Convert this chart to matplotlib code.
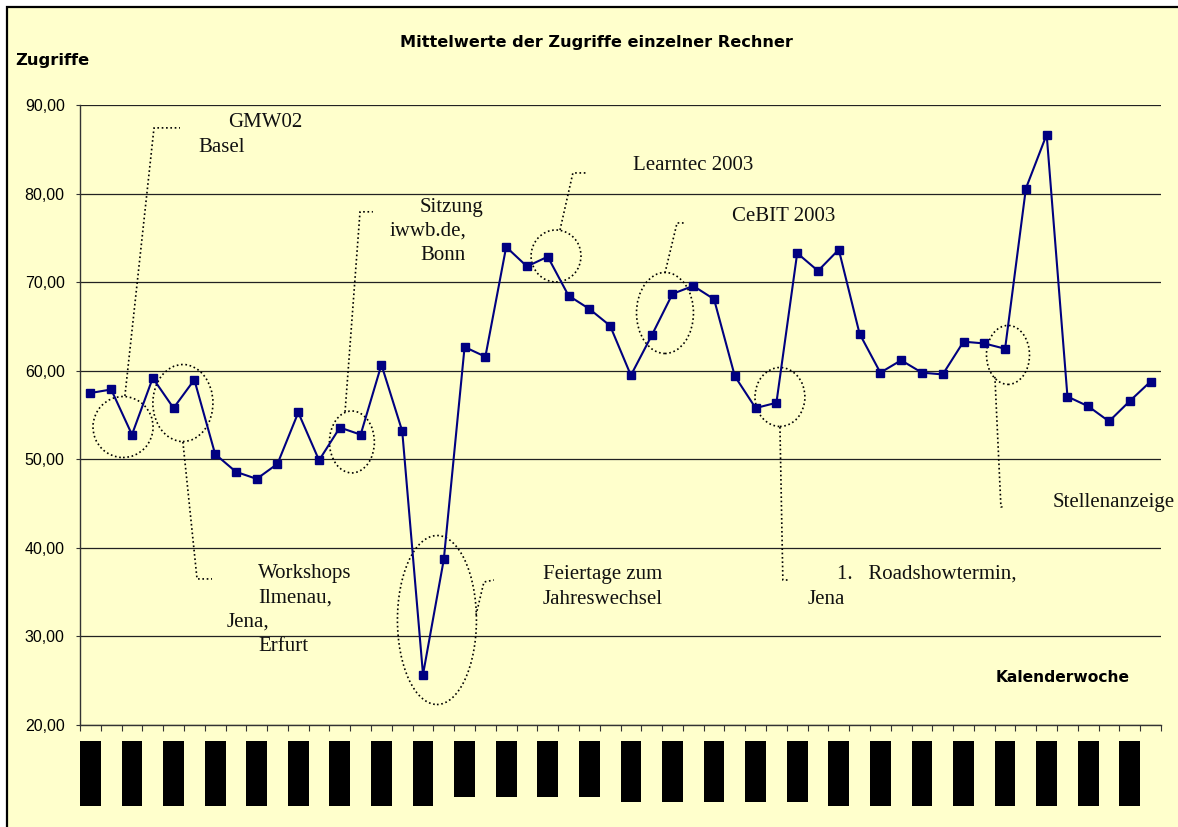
import matplotlib
matplotlib.use("Agg")
import matplotlib.pyplot as plt
from matplotlib.patches import Ellipse, Rectangle
from matplotlib.transforms import blended_transform_factory

# ---------------- data ----------------
weeks = [str(w) for w in list(range(36, 53)) + list(range(1, 36))]
zugriffe = [57.5, 57.9, 52.8, 59.2, 55.8, 59.0, 50.6, 48.6, 47.8, 49.5,
            55.3, 49.9, 53.6, 52.8, 60.7, 53.2, 25.7, 38.7, 62.7, 61.6,
            74.0, 71.8, 72.9, 68.5, 67.0, 65.1, 59.5, 64.0, 68.7, 69.6,
            68.1, 59.4, 55.8, 56.4, 73.3, 71.3, 73.7, 64.2, 59.8, 61.2,
            59.8, 59.6, 63.3, 63.1, 62.5, 80.6, 86.7, 57.1, 56.0, 54.3,
            56.6, 58.8]
y_ticks = [20, 30, 40, 50, 60, 70, 80, 90]

title = "Mittelwerte der Zugriffe einzelner Rechner"
y_label = "Zugriffe"
x_label = "Kalenderwoche"

# ---------------- figure ----------------
W, H = 1178, 827
fig = plt.figure(figsize=(W / 100, H / 100), dpi=100, facecolor="white")
BG = "#FFFFCC"

frame = Rectangle((7 / W, -0.02), 1.05, (H - 7) / H + 0.02, transform=fig.transFigure,
                  facecolor=BG, edgecolor="black", lw=1.6, zorder=-5)
fig.patches.append(frame)

ax_l, ax_r, ax_t, ax_b = 80, 1161, 105.3, 725
ax = fig.add_axes([ax_l / W, 1 - ax_b / H, (ax_r - ax_l) / W, (ax_b - ax_t) / H])
ax.set_facecolor("none")

x = list(range(len(zugriffe)))
ax.plot(x, zugriffe, color="#000080", lw=1.5, marker="s", markersize=5.4,
        markerfacecolor="#000080", markeredgecolor="#000080", zorder=5)

ax.set_xlim(-0.5, len(zugriffe) - 0.5)
ax.set_ylim(20, 90)
ax.set_yticks(y_ticks)
ax.set_yticklabels([f"{v:.2f}".replace(".", ",") for v in y_ticks],
                   fontfamily="Liberation Sans", fontsize=11.5)
ax.set_xticks([i - 0.5 for i in range(len(zugriffe) + 1)])
ax.set_xticklabels([])
ax.tick_params(axis="y", direction="out", length=3, width=0.8, pad=8, colors="#333333",
               labelcolor="black")
ax.tick_params(axis="x", direction="out", length=4, width=0.8, colors="#333333")
for s in ["top", "right"]:
    ax.spines[s].set_visible(False)
for s in ["left", "bottom"]:
    ax.spines[s].set_color("#333333")
    ax.spines[s].set_linewidth(1.0)
ax.yaxis.grid(True, color="#222222", lw=0.9)
ax.set_axisbelow(True)

# category label blocks (rendered as filled boxes in the original)
bt = blended_transform_factory(ax.transData, fig.transFigure)
top_px = 741
for i in range(0, len(weeks), 2):
    lab = weeks[i]
    if len(lab) == 1:
        bot_px = 797
    elif lab.startswith("1"):
        bot_px = 802
    else:
        bot_px = 806
    r = Rectangle((i - 0.5, 1 - bot_px / H), 1.0, (bot_px - top_px) / H, transform=bt,
                  facecolor="black", edgecolor="none", clip_on=False)
    ax.add_patch(r)

# ---------------- texts ----------------
bold_sans = "DejaVu Sans"
serif = "Liberation Serif"
fig.text(596 / W, 1 - 47 / H, title, ha="center", va="baseline", fontfamily=bold_sans,
         fontweight="bold", fontsize=11.6)
fig.text(15 / W, 1 - 65 / H, y_label, ha="left", va="baseline", fontfamily=bold_sans,
         fontweight="bold", fontsize=11.8)
fig.text(1130 / W, 1 - 682 / H, x_label, ha="right", va="baseline", fontfamily=bold_sans,
         fontweight="bold", fontsize=11.2)

dot = (0, (1, 1.6))
def ellipse(cx, cy, w, h):
    ax.add_patch(Ellipse((cx, cy), w, h, fill=False, edgecolor="black", lw=1.2,
                         linestyle=dot, zorder=4, clip_on=False))

def leader(xs, ys):
    ax.plot(xs, ys, color="black", lw=1.2, linestyle=dot, zorder=4, clip_on=False)

def label(cx, cy, s):
    ax.text(cx, cy, s, ha="left", va="baseline", fontfamily=serif, fontsize=15,
            color="#111111", clip_on=False)

# GMW02 Basel
ellipse(1.57, 53.66, 2.89, 6.89)
leader([1.66, 3.06, 4.31], [57.17, 87.45, 87.45])
label(6.62, 87.55, "GMW02")
label(5.18, 84.73, "Basel")

# Workshops
ellipse(4.45, 56.37, 2.89, 8.70)
leader([4.45, 5.13, 5.85], [51.97, 36.5, 36.5])
label(8.06, 36.61, "Workshops")
label(8.06, 33.78, "Ilmenau,")
label(6.57, 31.07, "Jena,")
label(8.06, 28.36, "Erfurt")

# Sitzung iwwb.de
ellipse(12.58, 51.97, 2.16, 7.0)
leader([12.25, 12.97, 13.59], [55.38, 77.97, 77.97])
label(15.85, 77.95, "Sitzung")
label(14.41, 75.24, "iwwb.de,")
label(15.85, 72.53, "Bonn")

# Feiertage
ellipse(16.67, 31.86, 3.80, 19.09)
leader([18.55, 18.93, 19.41], [32.43, 36.15, 36.38])
label(21.77, 36.50, "Feiertage zum")
label(21.77, 33.67, "Jahreswechsel")

# Learntec
ellipse(22.40, 72.98, 2.40, 5.87)
leader([22.59, 23.21, 23.89], [75.92, 82.36, 82.36])
label(26.10, 82.69, "Learntec 2003")

# CeBIT
ellipse(27.64, 66.54, 2.74, 9.15)
leader([27.64, 28.22, 28.65], [71.06, 76.71, 76.71])
label(30.86, 76.93, "CeBIT 2003")

# Roadshow
ellipse(33.17, 57.05, 2.40, 6.66)
leader([33.17, 33.31, 33.65], [53.66, 36.38, 36.38])
label(35.91, 36.50, "1.   Roadshowtermin,")
label(34.52, 33.67, "Jena")

# Stellenanzeige
ellipse(44.14, 61.8, 2.07, 6.66)
leader([43.51, 43.80, 43.99], [59.32, 44.64, 44.64])
label(46.30, 44.63, "Stellenanzeige")

fig.savefig("out.png", dpi=100, facecolor="white")
